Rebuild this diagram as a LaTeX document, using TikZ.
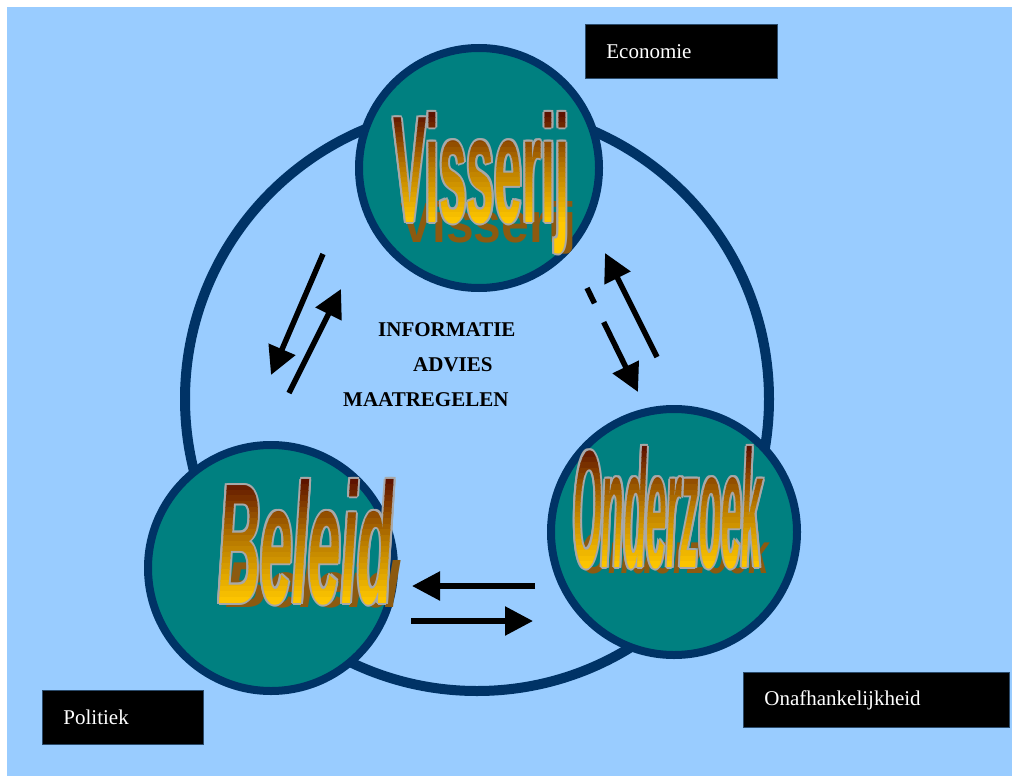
\documentclass[tikz,border=0pt]{standalone}
\usepackage{fontspec}
\usepackage{graphicx}
\setmainfont{Liberation Serif}
\newfontfamily\wafont{Liberation Sans}
\usetikzlibrary{arrows.meta}

\definecolor{bg}{HTML}{99CCFF}
\definecolor{navy}{HTML}{003366}
\definecolor{tealc}{HTML}{008080}
\definecolor{wdark}{HTML}{5A0E00}
\definecolor{wmid}{HTML}{B87A00}
\definecolor{wgold}{HTML}{FFC800}
\definecolor{wshadow}{HTML}{8C5A10}
\definecolor{outl}{HTML}{A8A8A8}
\definecolor{boxedge}{HTML}{2A4A6A}

\tikzset{
  wa/.style={inner sep=0pt, anchor=base west},
  circ/.style={circle, draw=navy, line width=8pt, fill=tealc, inner sep=0pt},
  arr/.style={line width=5.5pt, -{Triangle[length=28pt,width=28pt]}},
  lbl/.style={fill=black, draw=boxedge, line width=0.8pt, text=white, anchor=north west,
    font=\fontsize{21}{25}\selectfont, inner xsep=21pt, align=left, minimum height=54pt},
  info/.style={anchor=base west, inner sep=0pt, font=\bfseries\fontsize{21}{25}\selectfont}
}

% #1 x0, #2 baseline, #3 width, #4 height, #5 shadow height, #6 shadow dy, #7 font, #8 text
\newcommand\WordArt[8]{%
  \node[wa, text=wshadow] at (#1+7,#2+#6) {\resizebox{#3pt}{#5pt}{#7#8}};
  \foreach \dx/\dy in {-2/0,2/0,0/-2,0/2,-1.5/-1.5,1.5/-1.5,-1.5/1.5,1.5/1.5}
    \node[wa, text=outl] at (#1+\dx,#2+\dy) {\resizebox{#3pt}{#4pt}{#7#8}};
  \foreach \i in {0,...,21}{
    \pgfmathsetmacro\tt{(\i+0.5)/22}
    \pgfmathsetmacro\pa{min(100,200*\tt)}
    \pgfmathsetmacro\pb{max(0,200*\tt-100)}
    \pgfmathsetmacro\ytop{ifthenelse(\i==0, #2-#4-8, #2-#4+\i*#4/22)}
    \colorlet{bandc}{wmid!\pa!wdark}
    \colorlet{bandd}{wgold!\pb!bandc}
    \begin{scope}
      \clip (#1-12,\ytop) rectangle (#1+#3+15,#2-#4+\i*#4/22+#4/22+0.6);
      \node[wa, text=bandd] at (#1,#2) {\resizebox{#3pt}{#4pt}{#7#8}};
    \end{scope}
  }
  \begin{scope}
    \clip (#1-12,#2) rectangle (#1+#3+15,#2+60);
    \node[wa, text=wgold] at (#1,#2) {\resizebox{#3pt}{#4pt}{#7#8}};
  \end{scope}
}

\begin{document}
\begin{tikzpicture}[x=1pt,y=-1pt]
  \useasboundingbox (0,0) rectangle (1012,776);
  \fill[white] (0,0) rectangle (1012,776);
  \fill[bg] (7,7) rectangle (1012,776);

  % ring
  \node[circle, draw=navy, line width=10pt, minimum size=584pt, inner sep=0pt] (ring) at (477,399) {};

  % circles
  \node[circ, minimum size=240pt] (vis) at (479,168) {};
  \node[circ, minimum size=246pt] (bel) at (271,568) {};
  \node[circ, minimum size=246pt] (ond) at (674,532) {};

  % word art texts
  \WordArt{393}{222}{176}{110}{41}{20}{\wafont\bfseries}{Visserij}
  \WordArt{218}{603}{175}{124}{47}{4}{\wafont\bfseries\itshape}{Beleid}
  \WordArt{573}{567}{189}{121}{42}{6}{\wafont\bfseries\itshape}{Onderzoek}

  % arrows
  \coordinate (l1s) at (323,254); \coordinate (l1e) at (271,375);
  \coordinate (l2s) at (289,393); \coordinate (l2e) at (341,289);
  \coordinate (r1s) at (657,357); \coordinate (r1e) at (605,253);
  \coordinate (r2s) at (587,288); \coordinate (r2e) at (638,392);
  \coordinate (b1s) at (535,586); \coordinate (b1e) at (412,586);
  \coordinate (b2s) at (411,621); \coordinate (b2e) at (533,621);
  \draw[arr] (l1s) -- (l1e);
  \draw[arr] (l2s) -- (l2e);
  \draw[arr] (r1s) -- (r1e);
  \draw[arr, dash pattern=on 17pt off 21pt on 400pt] (r2s) -- (r2e);
  \draw[arr] (b1s) -- (b1e);
  \draw[arr] (b2s) -- (b2e);

  % center texts
  \node[info] (t1) at (378,336) {INFORMATIE};
  \node[info] (t2) at (413,371) {ADVIES};
  \node[info] (t3) at (343,406) {MAATREGELEN};

  % label boxes
  \node[lbl, minimum width=192pt, text width=150pt] (eco) at (585,24) {Economie};
  \node[lbl, minimum width=161pt, text width=119pt] (pol) at (42,690) {Politiek};
  \node[lbl, minimum width=266pt, text width=224pt, minimum height=55pt] (onf) at (743,672) {Onafhankelijkheid};
\end{tikzpicture}
\end{document}
